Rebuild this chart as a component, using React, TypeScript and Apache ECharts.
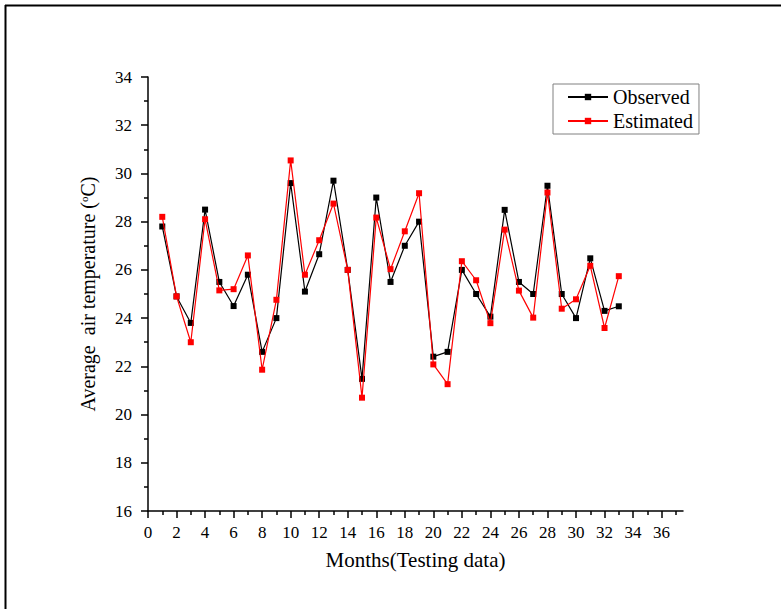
import React, { useEffect, useRef } from "react";
import * as echarts from "echarts";

const months = [1, 2, 3, 4, 5, 6, 7, 8, 9, 10, 11, 12, 13, 14, 15, 16, 17, 18, 19, 20, 21, 22, 23, 24, 25, 26, 27, 28, 29, 30, 31, 32, 33];
const observed = [27.8, 24.9, 23.8, 28.5, 25.5, 24.5, 25.8, 22.6, 24.0, 29.6, 25.1, 26.65, 29.7, 26.0, 21.48, 29.0, 25.5, 27.0, 28.0, 22.4, 22.6, 26.0, 25.0, 24.06, 28.49, 25.5, 25.0, 29.49, 25.0, 24.0, 26.48, 24.3, 24.49];
const estimated = [28.2, 24.9, 23.0, 28.1, 25.15, 25.2, 26.6, 21.86, 24.76, 30.54, 25.8, 27.23, 28.75, 26.0, 20.7, 28.17, 26.03, 27.6, 29.18, 22.08, 21.26, 26.36, 25.57, 23.79, 27.67, 25.14, 24.02, 29.21, 24.39, 24.78, 26.17, 23.59, 25.74];
const xMajorTicks = [0, 2, 4, 6, 8, 10, 12, 14, 16, 18, 20, 22, 24, 26, 28, 30, 32, 34, 36];
const xMinorTicks = [1, 3, 5, 7, 9, 11, 13, 15, 17, 19, 21, 23, 25, 27, 29, 31, 33, 35, 37];
const seriesNames = ["Observed", "Estimated"];

const FONT = "Liberation Serif";

export default function App() {
  const ref = useRef<HTMLDivElement>(null);
  useEffect(() => {
    if (!ref.current) return;
    const chart = echarts.init(ref.current, undefined, { renderer: "svg" });
    const obsData = months.map((m, i) => [m, observed[i]]);
    const estData = months.map((m, i) => [m, estimated[i]]);
    chart.setOption({
      animation: false,
      backgroundColor: "#fff",
      textStyle: { fontFamily: FONT, color: "#000" },
      grid: { left: 148, top: 77, right: 98, bottom: 98, containLabel: false },
      legend: {
        orient: "vertical",
        left: 553,
        top: 84,
        padding: [2, 6, 2, 14],
        itemGap: 2,
        itemWidth: 40,
        itemHeight: 8,
        borderColor: "#808080",
        borderWidth: 1,
        data: seriesNames,
        textStyle: { fontFamily: FONT, fontSize: 20, color: "#000", lineHeight: 22 },
      },
      xAxis: [
        {
          type: "value",
          min: 0,
          max: 37.5,
          interval: 2,
          name: "Months(Testing data)",
          nameLocation: "middle",
          nameGap: 38,
          nameTextStyle: { fontFamily: FONT, fontSize: 21, color: "#000" },
          axisLine: { show: true, lineStyle: { color: "#000", width: 1.5 } },
          axisTick: { show: true, inside: false, length: 7, customValues: xMajorTicks, lineStyle: { color: "#000", width: 1.5 } },
          axisLabel: { customValues: xMajorTicks, margin: 13, fontFamily: FONT, fontSize: 17, color: "#000" },
          splitLine: { show: false },
        },
        {
          type: "value",
          min: 0,
          max: 37.5,
          interval: 2,
          position: "bottom",
          axisLine: { show: false },
          axisTick: { show: true, inside: false, length: 4, customValues: xMinorTicks, lineStyle: { color: "#000", width: 1.5 } },
          axisLabel: { show: false },
          splitLine: { show: false },
        },
      ],
      yAxis: {
        type: "value",
        min: 16,
        max: 34,
        interval: 2,
        name: "Average  air temperature ({sup|o}C)",
        nameLocation: "middle",
        nameGap: 50,
        nameRotate: 90,
        nameTextStyle: {
          fontFamily: FONT,
          fontSize: 20,
          color: "#000",
          rich: { sup: { fontFamily: FONT, fontSize: 11, color: "#000", verticalAlign: "top", padding: [0, 0, 9, 0] } },
        },
        axisLine: { show: true, lineStyle: { color: "#000", width: 1.5 } },
        axisTick: { show: true, inside: false, length: 7, lineStyle: { color: "#000", width: 1.5 } },
        minorTick: { show: true, splitNumber: 2, length: 4, lineStyle: { color: "#000", width: 1.5 } },
        axisLabel: { margin: 16, fontFamily: FONT, fontSize: 17, color: "#000" },
        splitLine: { show: false },
      },
      series: [
        {
          name: seriesNames[0],
          type: "line",
          xAxisIndex: 0,
          data: obsData,
          symbol: "rect",
          symbolSize: 6,
          itemStyle: { color: "#000" },
          lineStyle: { color: "#000", width: 1.2 },
          z: 2,
        },
        {
          name: seriesNames[1],
          type: "line",
          xAxisIndex: 0,
          data: estData,
          symbol: "rect",
          symbolSize: 6,
          itemStyle: { color: "#ff0000" },
          lineStyle: { color: "#ff0000", width: 1.2 },
          z: 3,
        },
      ],
      graphic: [
        { type: "line", shape: { x1: 5, y1: 5.5, x2: 781, y2: 5.5 }, style: { stroke: "#000", lineWidth: 2 } },
        { type: "line", shape: { x1: 5.5, y1: 5, x2: 5.5, y2: 609 }, style: { stroke: "#000", lineWidth: 2 } },
      ],
    });
    return () => chart.dispose();
  }, []);
  return <div ref={ref} style={{ position: "fixed", left: 0, top: 0, width: 781, height: 609 }} />;
}
